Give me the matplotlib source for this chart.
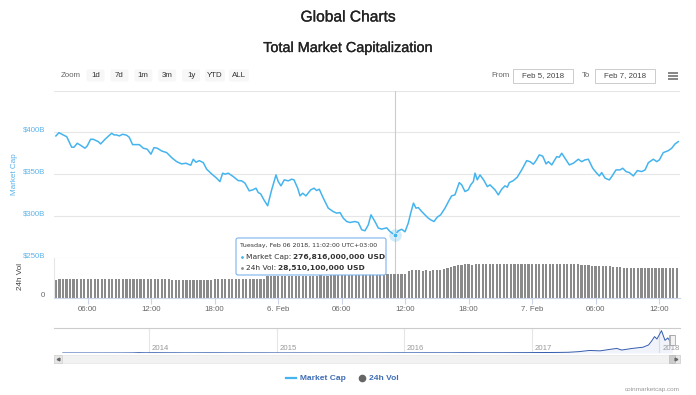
import numpy as np
import pandas as pd
import matplotlib
matplotlib.use('Agg')
import matplotlib.pyplot as plt
import matplotlib.dates as mdates
import matplotlib.transforms as mtransforms
import matplotlib.patheffects as pe
from matplotlib.patches import FancyBboxPatch, Rectangle

plt.rcParams['font.family'] = ['Liberation Sans', 'DejaVu Sans']

# Data: hours after 2018-02-05 00:00 (UTC+3), total market cap in $B
cap_hours = [3.00, 3.29, 3.64, 4.02, 4.49, 4.71, 5.02, 5.43, 5.74, 5.96,
             6.28, 6.53, 7.00, 7.23, 7.64, 8.27, 8.49, 8.74, 8.99, 9.31,
             9.69, 9.93, 10.25, 10.88, 11.26, 11.63, 11.98, 12.27, 12.58, 12.99,
             13.47, 13.94, 14.41, 14.88, 15.29, 15.74, 15.98, 16.24, 16.55, 16.93,
             17.25, 17.72, 18.19, 18.50, 18.76, 18.98, 19.29, 19.76, 20.23, 20.56,
             20.87, 21.27, 21.60, 21.91, 22.12, 22.35, 22.66, 23.01, 23.39, 23.80,
             24.01, 24.27, 24.58, 24.96, 25.28, 25.50, 25.85, 26.07, 26.32, 26.63,
             27.08, 27.39, 27.64, 27.89, 28.27, 28.74, 29.21, 29.53, 29.85, 30.16,
             30.48, 30.79, 31.26, 31.58, 31.90, 32.21, 32.52, 32.78, 33.15, 33.47,
             33.79, 34.26, 34.57, 35.03, 35.36, 35.68, 35.99, 36.30, 36.53, 36.79,
             37.03, 37.25, 37.57, 37.88, 38.19, 38.42, 38.73, 39.04, 39.36, 39.77,
             40.18, 40.40, 40.71, 41.12, 41.35, 41.66, 41.97, 42.20, 42.45, 42.61,
             42.82, 43.08, 43.46, 43.77, 44.02, 44.50, 44.81, 45.13, 45.44, 45.66,
             45.85, 46.23, 46.60, 47.02, 47.49, 47.81, 48.12, 48.37, 48.68, 49.01,
             49.32, 49.54, 49.86, 50.33, 50.57, 50.80, 51.11, 51.52, 51.90, 52.37,
             52.69, 53.00, 53.32, 53.73, 54.11, 54.36, 54.58, 54.90, 55.30, 55.53,
             55.93, 56.31, 56.57, 56.88, 57.19, 57.57, 57.95, 58.36, 58.68, 58.99,
             59.46, 59.78, 60.03, 60.40, 60.88, 61.20, 61.51, 61.82]
cap_values = [395.6, 399.5, 397.1, 394.7, 382.1, 382.1, 386.8, 383.6, 380.9, 383.6,
              391.6, 391.6, 388.8, 386.0, 391.6, 398.8, 396.8, 396.8, 395.6, 397.6,
              396.4, 394.0, 385.2, 385.2, 380.9, 379.7, 373.7, 381.6, 380.9, 377.6,
              375.6, 369.6, 364.8, 362.1, 362.9, 360.5, 367.7, 364.1, 366.0, 363.6,
              355.7, 350.1, 345.0, 340.9, 351.0, 349.8, 351.0, 346.9, 342.1, 341.8,
              339.0, 329.8, 331.0, 333.0, 327.8, 326.2, 319.0, 311.9, 331.0, 348.9,
              340.9, 335.8, 343.0, 341.8, 343.8, 343.0, 333.0, 323.8, 327.0, 323.8,
              331.0, 333.0, 330.2, 331.8, 321.1, 309.1, 305.0, 303.1, 303.8, 297.1,
              293.1, 291.9, 293.1, 291.9, 283.2, 282.0, 289.1, 301.1, 293.1, 285.2,
              284.0, 285.5, 281.1, 276.816, 282.0, 283.8, 280.8, 291.2, 303.1, 315.1,
              309.1, 309.8, 305.0, 301.1, 297.1, 295.1, 293.1, 298.3, 301.1, 309.1,
              319.0, 323.8, 325.0, 339.7, 337.0, 329.0, 331.0, 337.0, 340.9, 351.0,
              343.0, 348.9, 342.1, 334.9, 337.0, 331.0, 325.0, 331.8, 335.8, 334.2,
              339.7, 342.1, 346.2, 354.9, 366.0, 364.8, 361.7, 366.0, 372.9, 371.3,
              362.1, 364.8, 360.9, 370.8, 370.1, 374.9, 368.9, 360.9, 362.9, 367.7,
              364.8, 366.9, 367.7, 356.9, 351.0, 347.7, 351.7, 345.0, 342.9, 346.9,
              354.9, 354.9, 356.9, 352.9, 351.7, 347.7, 354.1, 352.9, 354.9, 363.6,
              367.7, 364.8, 366.9, 375.6, 378.0, 380.9, 386.0, 388.8]

# 24h volume in $B, one bar every 20 minutes from 03:00 Feb 5 (3 bars per hour)
vol_values = [21.6, 21.8, 21.7, 21.9, 21.8, 21.7, 21.8, 22.0, 21.9,
              22.3, 22.4, 22.4, 22.5, 22.4, 22.6, 22.6, 22.5, 22.7,
              22.6, 22.8, 22.7, 22.6, 22.5, 22.6, 22.4, 22.5, 22.3,
              22.4, 22.6, 22.5, 22.4, 22.3, 22.2, 21.3, 21.2, 21.0,
              21.1, 20.9, 21.0, 21.0, 21.1, 20.9, 21.2, 21.3, 21.4,
              21.9, 22.0, 22.1, 22.2, 22.1, 22.3, 22.2, 22.4, 22.3,
              22.5, 22.4, 22.6, 22.5, 22.7, 22.6, 25.6, 25.8, 25.9,
              26.0, 26.1, 25.9, 26.2, 26.0, 26.3, 26.2, 26.4, 26.1,
              26.3, 26.2, 26.4, 26.5, 26.3, 26.4, 26.6, 26.5, 26.7,
              26.8, 26.6, 26.9, 27.2, 27.4, 27.6, 27.8, 28.0, 28.1,
              28.2, 28.3, 28.2, 28.4, 28.3, 28.5, 28.51, 28.6, 28.5,
              28.7, 32.4, 32.6, 32.5, 32.6, 32.4, 32.5, 32.3, 32.6,
              32.7, 33.5, 34.6, 35.2, 36.4, 37.5, 38.6, 39.4, 39.8,
              40.0, 39.6, 40.1, 40.3, 40.0, 39.8, 40.2, 40.1, 39.9,
              40.3, 40.2, 40.4, 40.1, 40.3, 40.2, 40.4, 40.2, 40.5,
              40.3, 40.1, 40.4, 40.6, 40.5, 40.3, 40.2, 40.4, 40.1,
              40.3, 40.0, 40.2, 39.8, 39.9, 39.6, 39.0, 38.6, 38.3,
              38.0, 37.8, 37.6, 37.9, 37.5, 37.2, 36.8, 36.4, 36.0,
              35.6, 35.3, 35.0, 35.2, 34.9, 35.0, 35.1, 35.3, 35.0,
              35.2, 35.4, 35.3, 35.5, 35.3, 35.4]
vol_first_hour = 3.0
vol_step_min = 20

# Navigator: full history of total market cap ($B)
nav_dates = ['2013-04-28', '2013-05-15', '2013-06-15', '2013-07-15', '2013-08-15',
             '2013-09-15', '2013-10-15', '2013-11-15', '2013-12-01', '2013-12-20',
             '2014-01-15', '2014-02-15', '2014-03-15', '2014-04-15', '2014-05-15',
             '2014-06-15', '2014-07-15', '2014-08-15', '2014-09-15', '2014-10-15',
             '2014-11-15', '2014-12-15', '2015-01-15', '2015-02-15', '2015-03-15',
             '2015-04-15', '2015-05-15', '2015-06-15', '2015-07-15', '2015-08-15',
             '2015-09-15', '2015-10-15', '2015-11-15', '2015-12-15', '2016-01-15',
             '2016-02-15', '2016-03-15', '2016-04-15', '2016-05-15', '2016-06-15',
             '2016-07-15', '2016-08-15', '2016-09-15', '2016-10-15', '2016-11-15',
             '2016-12-15', '2017-01-15', '2017-02-15', '2017-03-15', '2017-04-15',
             '2017-05-15', '2017-06-15', '2017-07-15', '2017-08-15', '2017-09-01',
             '2017-09-15', '2017-10-15', '2017-11-15', '2017-12-01', '2017-12-10',
             '2017-12-18', '2017-12-25', '2018-01-07', '2018-01-17', '2018-01-25',
             '2018-02-01', '2018-02-06', '2018-02-07']
nav_values = [1.5, 1.3, 1.2, 1.0, 1.3, 1.6, 2.0, 5.0, 13.0, 8.0,
              10.5, 8.0, 7.5, 5.5, 6.5, 8.0, 7.5, 6.0, 6.0, 5.0,
              5.5, 4.5, 3.3, 3.6, 4.1, 3.6, 3.6, 3.8, 4.6, 4.2,
              3.9, 4.3, 5.6, 7.0, 6.7, 6.9, 7.8, 7.6, 7.9, 11.5,
              11.1, 10.0, 10.5, 11.0, 12.5, 13.5, 16.5, 18.5, 21.0, 27.0,
              50.0, 95.0, 80.0, 140.0, 170.0, 110.0, 170.0, 215.0, 300.0, 450.0,
              610.0, 520.0, 830.0, 470.0, 560.0, 430.0, 280.0, 380.0]
nav_years = [2014, 2015, 2016, 2017, 2018]

y_ticks = [250, 300, 350, 400, 450]
zoom_buttons = ['1d', '7d', '1m', '3m', '1y', 'YTD', 'ALL']
range_from, range_to = 'Feb 5, 2018', 'Feb 7, 2018'
tip_header = 'Tuesday, Feb 06 2018, 11:02:00 UTC+03:00'
tip_hour, tip_cap, tip_vol = 35.03, 276.816, 28.5101

LINE = '#45b4ee'
W, H = 696, 395

base = pd.Timestamp('2018-02-05')
cap_t = mdates.date2num((base + pd.to_timedelta(cap_hours, unit='h')).to_pydatetime())
vol_h = vol_first_hour + np.arange(len(vol_values)) * vol_step_min / 60
vol_t = mdates.date2num((base + pd.to_timedelta(vol_h, unit='h')).to_pydatetime())
tip_t = mdates.date2num((base + pd.Timedelta(hours=tip_hour)).to_pydatetime())
nav_t = mdates.date2num(pd.to_datetime(nav_dates).to_pydatetime())

fig = plt.figure(figsize=(W / 100, H / 100), dpi=100)


def axes_px(l, t, r, b, **kw):
    return fig.add_axes([l / W, 1 - b / H, (r - l) / W, (b - t) / H], **kw)


ax = axes_px(54, 90.5, 680, 257.5)
axv = axes_px(54, 257.5, 680, 297.5)
axn = axes_px(54, 328, 680, 353)
x0 = mdates.date2num((base + pd.Timedelta(hours=2.82)).to_pydatetime())
x1 = mdates.date2num((base + pd.Timedelta(hours=61.98)).to_pydatetime())

# main line
ax.plot(cap_t, cap_values, color=LINE, lw=1.1, zorder=3)
ax.set_xlim(x0, x1)
ax.set_ylim(250, 450)
ax.set_yticks(y_ticks)
ax.set_yticklabels([f'${v}B' if v < 450 else '' for v in y_ticks])
ax.grid(axis='y', color='#e6e6e6', lw=0.8)
ax.set_xticks([])
for s in ax.spines.values():
    s.set_visible(False)
ax.tick_params(axis='y', length=0, pad=6.5, labelsize=5.6, labelcolor='#5cb3ea')
up = mtransforms.ScaledTranslation(0, 0.03, fig.dpi_scale_trans)
for lbl in ax.get_yticklabels():
    lbl.set_transform(lbl.get_transform() + up)
ax.axvline(tip_t, color='#cccccc', lw=0.8, zorder=2)
ax.plot([tip_t], [tip_cap], 'o', ms=9, color=LINE, alpha=0.25, mec='none', zorder=4)
ax.plot([tip_t], [tip_cap], 'o', ms=3.5, color=LINE, mec='white', mew=0.5, zorder=5)

# volume bars
axv.bar(vol_t, vol_values, width=vol_step_min / 1440 * 0.62, color='#8a8a8a', lw=0)
axv.set_xlim(x0, x1)
axv.set_ylim(0, 48)
axv.set_yticks([0])
axv.tick_params(axis='y', length=0, pad=6.5, labelsize=5.6, labelcolor='#666666')
for lbl in axv.get_yticklabels():
    lbl.set_transform(lbl.get_transform() + up)
axv.axvline(tip_t, color='#cccccc', lw=0.8, zorder=0)
for k in ['top', 'right']:
    axv.spines[k].set_visible(False)
axv.spines['left'].set_color('#e6e6e6')
axv.spines['bottom'].set_color('#ccd6eb')
axv.xaxis.set_major_locator(mdates.HourLocator(byhour=[0, 6, 12, 18]))


def fmt_time(x, pos):
    d = mdates.num2date(x)
    return f'{d.day}. {d:%b}' if d.hour == 0 else d.strftime('%H:%M')


axv.xaxis.set_major_formatter(plt.FuncFormatter(fmt_time))
axv.tick_params(axis='x', length=4, color='#ccd6eb', pad=2, labelsize=5.7, labelcolor='#666666')

# navigator
axn.plot(nav_t, nav_values, color='#335cad', lw=0.7)
axn.fill_between(nav_t, nav_values, color='#335cad', alpha=0.07, lw=0)
axn.set_xlim(mdates.date2num(pd.Timestamp('2013-04-03').to_pydatetime()),
             mdates.date2num(pd.Timestamp('2018-03-01').to_pydatetime()))
axn.set_ylim(0, 930)
axn.set_xticks([])
axn.set_yticks([])
for k in ['left', 'right', 'bottom']:
    axn.spines[k].set_visible(False)
axn.spines['top'].set_color('#cccccc')
for yr in nav_years:
    xd = mdates.date2num(pd.Timestamp(f'{yr}-01-01').to_pydatetime())
    axn.axvline(xd, color='#e6e6e6', lw=0.8, zorder=0)
    axn.annotate(str(yr), xy=(xd, 0), xycoords=('data', 'axes fraction'),
                 xytext=(2, 0.5), textcoords='offset points', fontsize=5.6,
                 color='#999999', ha='left', va='bottom')

# overlay in pixel coordinates (origin top-left)
ov = fig.add_axes([0, 0, 1, 1], zorder=10)
ov.set_xlim(0, W)
ov.set_ylim(H, 0)
ov.axis('off')

thick = [pe.withStroke(linewidth=0.2, foreground='#222222')]
ov.text(W / 2, 17, 'Global Charts', ha='center', va='center', fontsize=11.2, color='#222222',
        path_effects=thick)
ov.text(W / 2, 48, 'Total Market Capitalization', ha='center', va='center', fontsize=10.4,
        color='#222222', path_effects=thick)

ov.text(71, 75.5, 'Zoom', ha='center', va='center', fontsize=5.7, color='#666666')
for i, b in enumerate(zoom_buttons):
    cx = 95.5 + i * 23.9
    bw = 18 if len(b) < 3 else 20
    ov.add_patch(FancyBboxPatch((cx - bw / 2, 69.5), bw, 12,
                                boxstyle='round,pad=0,rounding_size=2',
                                fc='#f7f7f7', ec='none'))
    ov.text(cx, 75.5, b, ha='center', va='center', fontsize=5.7, color='#333333')

ov.text(500, 75.5, 'From', ha='center', va='center', fontsize=5.7, color='#666666')
ov.add_patch(Rectangle((513, 68.5), 60, 14, fc='white', ec='#cccccc', lw=0.7))
ov.text(543, 75.5, range_from, ha='center', va='center', fontsize=5.7, color='#444444')
ov.text(586, 75.5, 'To', ha='center', va='center', fontsize=5.7, color='#666666')
ov.add_patch(Rectangle((595, 68.5), 60, 14, fc='white', ec='#cccccc', lw=0.7))
ov.text(625, 75.5, range_to, ha='center', va='center', fontsize=5.7, color='#444444')
for yy in [72.5, 75.5, 78.5]:
    ov.plot([668, 678], [yy, yy], color='#666666', lw=1.1, solid_capstyle='butt')

ov.text(14, 174, 'Market Cap', rotation=90, ha='center', va='center', fontsize=5.9,
        color='#5cb3ea')
ov.text(21, 277, '24h Vol', rotation=90, ha='center', va='center', fontsize=5.9,
        color='#444444')

# tooltip
ov.add_patch(FancyBboxPatch((236, 238), 150, 37, boxstyle='round,pad=0,rounding_size=2',
                            fc=(1, 1, 1, 0.9), ec='#7cb5ec', lw=0.8))
tf = ['DejaVu Sans']
ov.text(240, 245, tip_header, ha='left', va='center', fontsize=4.5, color='#333333', family=tf)
rows = [(257, LINE, 'Market Cap: ', f'{tip_cap * 1e9:,.0f} USD'),
        (268, '#8a8a8a', '24h Vol: ', f'{tip_vol * 1e9:,.0f} USD')]
for yy, c, lab, val in rows:
    ov.plot([242], [yy], 'o', ms=2, color=c, mec='none')
    t1 = ov.text(245.5, yy, lab, ha='left', va='center', fontsize=5.4, color='#333333',
                 family=tf)
    ov.annotate(val, xy=(1, 0.5), xycoords=t1, ha='left', va='center', fontsize=5.4,
                color='#333333', fontweight='bold', family=tf)

# navigator handles and scrollbar
disp = axn.transData.transform([(mdates.date2num(pd.Timestamp('2018-02-05').to_pydatetime()), 0),
                                (mdates.date2num(pd.Timestamp('2018-02-07').to_pydatetime()), 0)])
hx = [d[0] for d in disp]
ov.add_patch(Rectangle((54, 355), 626, 8, fc='#f2f2f2', ec='#e6e6e6', lw=0.5))
ov.add_patch(Rectangle((54, 355), 8, 8, fc='#e6e6e6', ec='#d0d0d0', lw=0.5))
ov.add_patch(Rectangle((672, 355), 8, 8, fc='#e6e6e6', ec='#d0d0d0', lw=0.5))
ov.plot([58], [359], marker='<', ms=2, color='#666666')
ov.plot([676], [359], marker='>', ms=2, color='#666666')
ov.add_patch(Rectangle((hx[0] - 3, 355), hx[1] - hx[0] + 6, 8, fc='#cccccc', ec='#bbbbbb', lw=0.5))
for x in hx:
    ov.add_patch(Rectangle((x - 2.5, 335), 5, 10, fc='#f2f2f2', ec='#999999', lw=0.5))

# legend
ov.plot([286, 296], [378, 378], color=LINE, lw=1.6)
ov.text(300, 378, 'Market Cap', ha='left', va='center', fontsize=6, color='#3e6db5',
        fontweight='bold')
ov.plot([362], [378], 'o', ms=5.5, color='#666666', mec='none')
ov.text(369, 378, '24h Vol', ha='left', va='center', fontsize=6, color='#3e6db5',
        fontweight='bold')
ov.text(680, 390, 'coinmarketcap.com', ha='right', va='center', fontsize=4.6, color='#999999')

fig.savefig('out.png', dpi=100)
